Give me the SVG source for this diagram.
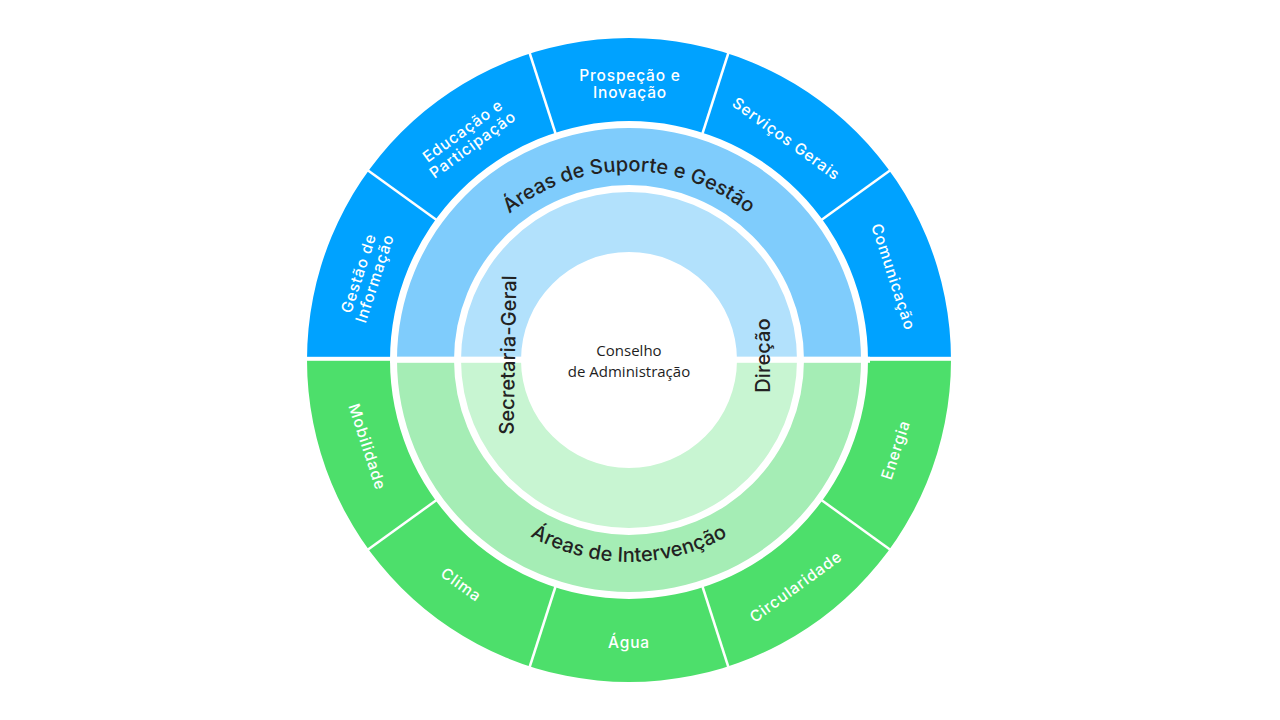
<svg xmlns="http://www.w3.org/2000/svg" width="1280" height="720" viewBox="0 0 1280 720">
<defs>
<style>
.lbl{font-family:Inter,"DejaVu Sans",sans-serif;font-size:15.5px;font-weight:500;fill:#ffffff;text-anchor:middle;letter-spacing:0.8px}
.main{font-family:Inter,"DejaVu Sans",sans-serif;font-size:20px;font-weight:500;fill:#222222;letter-spacing:0.1px}
.ctr{font-family:"Open Sans","Noto Sans",sans-serif;font-size:15px;fill:#1e1e1e;text-anchor:middle}
.sep{stroke:#ffffff;stroke-width:2.5;fill:none}
</style>
<path id="arcTop" d="M 440 360 A 189 189 0 0 1 818 360"/>
<path id="arcBot" d="M 427 360 A 202 202 0 0 0 831 360"/>
</defs>
<rect width="1280" height="720" fill="#ffffff"/>
<g id="ring-outer">
<path d="M 307 360 A 322 322 0 0 1 951 360 L 868 360 A 239 239 0 0 0 390 360 Z" fill="#00A2FF"/>
<path d="M 307 360 A 322 322 0 0 0 951 360 L 868 360 A 239 239 0 0 1 390 360 Z" fill="#4DDF6B"/>
</g>
<g id="ring-mid">
<path d="M 397 360 A 232 232 0 0 1 861 360 L 804 360 A 175 175 0 0 0 454 360 Z" fill="#7FCCFC"/>
<path d="M 397 360 A 232 232 0 0 0 861 360 L 804 360 A 175 175 0 0 1 454 360 Z" fill="#A5EDB5"/>
</g>
<g id="ring-inner">
<path d="M 461 360 A 168 168 0 0 1 797 360 L 737 360 A 108 108 0 0 0 521 360 Z" fill="#B2E1FC"/>
<path d="M 461 360 A 168 168 0 0 0 797 360 L 737 360 A 108 108 0 0 1 521 360 Z" fill="#C8F5D2"/>
</g>
<g id="connectors">
<rect x="300" y="356.8" width="660" height="4" fill="#ffffff"/>
<rect x="390" y="356.8" width="480" height="6" fill="#ffffff"/>
<line class="sep" x1="820" y1="221" x2="892" y2="169"/>
<line class="sep" x1="702" y1="135" x2="729" y2="51"/>
<line class="sep" x1="556" y1="135" x2="529" y2="51"/>
<line class="sep" x1="438" y1="221" x2="366" y2="169"/>
<line class="sep" x1="820" y1="499" x2="892" y2="551"/>
<line class="sep" x1="702" y1="585" x2="729" y2="669"/>
<line class="sep" x1="556" y1="585" x2="529" y2="669"/>
<line class="sep" x1="438" y1="499" x2="366" y2="551"/>
</g>
<g id="node-gestao-informacao" transform="translate(367,276) rotate(-72)">
<text class="lbl" x="0" y="-3.5">Gestão de</text>
<text class="lbl" x="0" y="13.5">Informação</text>
</g>
<g id="node-educacao" transform="translate(468,138) rotate(-36)">
<text class="lbl" x="0" y="-3.5">Educação e</text>
<text class="lbl" x="0" y="13.5">Participação</text>
</g>
<g id="node-prospecao" transform="translate(630,84)">
<text class="lbl" x="0" y="-3.5">Prospeção e</text>
<text class="lbl" x="0" y="13.5">Inovação</text>
</g>
<g id="node-servicos" transform="translate(786,139) rotate(36)">
<text class="lbl" x="0" y="5">Serviços Gerais</text>
</g>
<g id="node-comunicacao" transform="translate(893,277) rotate(72)">
<text class="lbl" x="0" y="5">Comunicação</text>
</g>
<g id="node-mobilidade" transform="translate(367,447) rotate(72)">
<text class="lbl" x="0" y="5">Mobilidade</text>
</g>
<g id="node-clima" transform="translate(461,585) rotate(36)">
<text class="lbl" x="0" y="5">Clima</text>
</g>
<g id="node-agua" transform="translate(629,643)">
<text class="lbl" x="0" y="5">Água</text>
</g>
<g id="node-circularidade" transform="translate(796,587) rotate(-36)">
<text class="lbl" x="0" y="5">Circularidade</text>
</g>
<g id="node-energia" transform="translate(896,450) rotate(-72)">
<text class="lbl" x="0" y="5">Energia</text>
</g>
<g id="node-suporte">
<text class="main"><textPath href="#arcTop" startOffset="50%" text-anchor="middle">Áreas de Suporte e Gestão</textPath></text>
</g>
<g id="node-intervencao">
<text class="main"><textPath href="#arcBot" startOffset="50%" text-anchor="middle">Áreas de Intervenção</textPath></text>
</g>
<g id="node-secretaria" transform="translate(515,355) rotate(-89)">
<text class="main" x="0" y="0" text-anchor="middle">Secretaria-Geral</text>
</g>
<g id="node-direcao" transform="translate(770,355.5) rotate(-90)">
<text class="main" x="0" y="0" text-anchor="middle">Direção</text>
</g>
<g id="node-conselho">
<text class="ctr" x="629" y="356">Conselho</text>
<text class="ctr" x="629" y="377">de Administração</text>
</g>
</svg>
